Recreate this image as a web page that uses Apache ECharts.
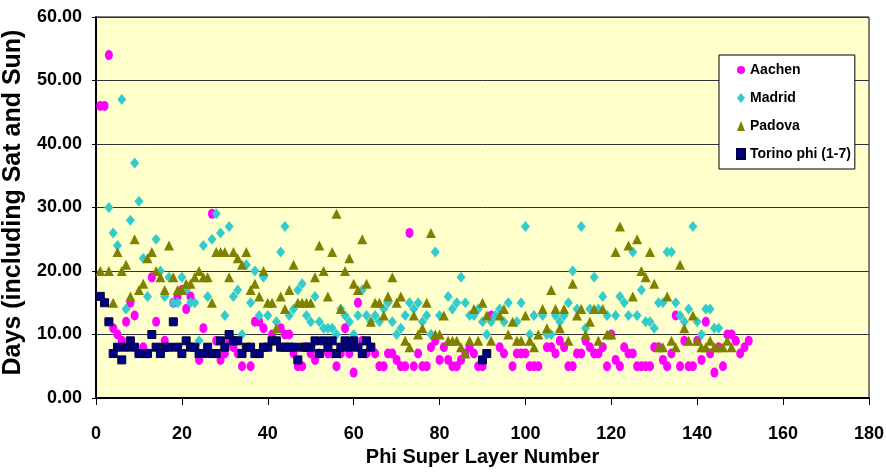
<!DOCTYPE html>
<html>
<head>
<meta charset="utf-8">
<script src="https://cdn.jsdelivr.net/npm/echarts@6/dist/echarts.min.js"></script>
<style>
html,body{margin:0;padding:0;background:#fff;}
#chart{width:886px;height:472px;}
</style>
</head>
<body>
<div id="chart"></div>
<script>
// Data: [phi super layer number, days]
const aachen = [[1,46],[2,46],[3,54],[4,11],[5,10],[6,9],[7,12],[8,15],[9,13],[11,8],[12,7],[13,19],[14,12],[16,9],[18,15],[19,16],[20,17],[21,14],[22,16],[24,6],[25,11],[27,29],[28,9],[29,6],[30,7],[31,9],[32,8],[33,7],[34,5],[36,5],[37,12],[38,12],[39,11],[41,10],[43,11],[44,10],[45,10],[46,7],[47,5],[48,5],[49,8],[50,7],[51,6],[52,7],[54,7],[55,7],[56,5],[57,7],[58,11],[59,7],[60,4],[61,15],[62,9],[63,7],[64,8],[65,7],[66,5],[67,5],[68,7],[69,7],[70,6],[71,5],[72,5],[73,26],[74,5],[75,7],[76,5],[77,5],[78,8],[79,9],[80,6],[81,8],[82,6],[83,5],[84,5],[85,6],[86,7],[87,8],[88,7],[89,5],[90,5],[92,13],[94,8],[95,7],[97,5],[98,7],[99,7],[100,7],[101,5],[102,5],[103,5],[105,8],[106,8],[107,7],[108,9],[109,8],[110,5],[111,5],[112,7],[113,7],[114,9],[115,8],[116,7],[117,7],[118,8],[119,5],[120,10],[121,6],[122,5],[123,8],[124,7],[125,7],[126,5],[127,5],[128,5],[129,5],[130,8],[131,8],[132,6],[133,5],[134,7],[135,13],[136,5],[137,9],[138,5],[139,5],[140,9],[141,6],[142,12],[143,7],[144,4],[145,8],[146,5],[147,10],[148,10],[149,9],[150,7],[151,8],[152,9]];

const madrid = [[3,30],[4,26],[5,24],[6,47],[7,14],[8,28],[9,37],[10,31],[11,22],[12,16],[14,25],[15,20],[16,16],[17,19],[18,15],[19,15],[20,19],[21,17],[22,15],[23,15],[24,9],[25,24],[26,16],[27,25],[28,29],[29,26],[30,13],[31,27],[32,16],[33,17],[34,10],[35,21],[36,15],[37,20],[38,13],[39,19],[40,13],[42,12],[43,23],[44,27],[45,13],[46,14],[47,17],[48,18],[49,13],[50,12],[51,16],[52,12],[53,11],[54,11],[55,11],[56,10],[57,14],[58,13],[59,12],[60,10],[61,13],[62,17],[63,13],[64,12],[65,13],[66,12],[67,14],[68,15],[69,12],[70,10],[71,11],[72,13],[73,15],[74,14],[75,15],[76,12],[77,13],[78,10],[79,23],[80,13],[82,16],[83,14],[84,15],[85,19],[86,15],[87,13],[88,13],[89,14],[90,12],[91,10],[92,12],[93,13],[94,14],[95,12],[96,15],[98,12],[99,15],[100,27],[101,10],[102,13],[104,13],[105,10],[106,10],[107,13],[108,12],[109,13],[110,15],[111,20],[112,14],[113,27],[114,11],[115,14],[116,19],[117,14],[118,16],[119,13],[121,13],[122,16],[123,15],[124,13],[125,23],[126,13],[127,17],[128,12],[129,12],[130,11],[131,15],[132,15],[133,23],[134,23],[135,15],[136,13],[137,12],[138,14],[139,27],[140,12],[141,10],[142,14],[143,14],[144,11],[145,11]];

const padova = [[1,20],[3,20],[4,15],[5,23],[6,20],[7,21],[8,16],[9,25],[10,17],[11,18],[12,22],[13,23],[14,20],[15,19],[16,17],[17,24],[18,19],[19,17],[20,17],[21,18],[22,18],[23,19],[24,20],[25,19],[26,19],[27,15],[28,23],[29,23],[30,23],[31,19],[32,23],[33,22],[34,21],[35,23],[36,17],[37,18],[38,16],[39,20],[40,15],[41,15],[42,11],[43,16],[44,14],[45,17],[46,21],[47,15],[48,15],[49,15],[50,15],[51,19],[52,24],[53,20],[54,16],[55,23],[56,29],[57,14],[58,20],[59,22],[60,18],[61,17],[62,25],[63,18],[64,12],[65,15],[66,15],[67,13],[68,16],[69,19],[70,15],[71,16],[72,9],[73,8],[74,13],[75,10],[76,11],[77,15],[78,26],[79,10],[80,10],[81,13],[82,9],[83,9],[84,9],[85,8],[86,7],[87,9],[88,14],[89,9],[90,15],[91,13],[92,9],[94,13],[95,14],[96,10],[97,12],[98,9],[99,9],[100,13],[101,9],[102,8],[103,10],[104,14],[105,11],[106,17],[107,14],[108,11],[109,14],[110,9],[111,18],[112,13],[113,14],[114,10],[115,12],[116,14],[117,9],[118,14],[119,10],[120,10],[121,23],[122,27],[124,24],[125,16],[126,25],[127,20],[128,19],[129,23],[130,18],[131,8],[132,8],[133,16],[134,9],[135,8],[136,21],[137,11],[138,9],[139,13],[140,9],[141,8],[142,8],[143,9],[144,8],[145,8],[146,8],[147,9],[148,8]];

const torino = [[1,16],[2,15],[3,12],[4,7],[5,8],[6,6],[7,8],[8,9],[9,8],[10,7],[11,7],[12,7],[13,10],[14,8],[15,7],[16,8],[17,8],[18,12],[19,8],[20,7],[21,9],[22,8],[23,8],[24,7],[25,7],[26,8],[27,7],[28,7],[29,9],[30,8],[31,10],[32,9],[33,9],[34,7],[35,8],[36,8],[37,7],[38,7],[39,8],[40,8],[41,9],[42,9],[43,8],[44,8],[45,8],[46,8],[47,6],[48,8],[49,8],[50,8],[51,9],[52,7],[53,9],[54,8],[55,9],[56,7],[57,8],[58,9],[59,8],[60,9],[61,8],[62,7],[63,9],[64,8],[90,6],[91,7]];

const seriesNames = ['Aachen','Madrid','Padova','Torino phi (1-7)'];
const yTicks = [0,10,20,30,40,50,60];
const xTicks = [0,20,40,60,80,100,120,140,160,180];

const FONT = "'Liberation Sans',Arial,sans-serif";

const chart = echarts.init(document.getElementById('chart'), null, {renderer:'canvas'});
chart.setOption({
  animation:false,
  backgroundColor:'#ffffff',
  grid:{left:96,right:17,top:17,bottom:74,containLabel:false,outerBoundsMode:'none',show:true,backgroundColor:'#FFFFCC',borderColor:'#000',borderWidth:1},
  legend:{
    orient:'vertical',left:719,top:55,
    data:seriesNames,
    backgroundColor:'#ffffff',borderColor:'#000',borderWidth:1,
    padding:[8,4,8,17],itemGap:14,itemWidth:8,itemHeight:10,
    textStyle:{fontFamily:FONT,fontWeight:'bold',fontSize:14,color:'#000'}
  },
  xAxis:{
    type:'value',min:xTicks[0],max:xTicks[xTicks.length-1],interval:20,
    name:'Phi Super Layer Number',nameLocation:'middle',nameGap:48,
    nameTextStyle:{fontFamily:FONT,fontWeight:'bold',fontSize:20,color:'#000'},
    axisLine:{lineStyle:{color:'#000',width:2}},
    axisTick:{show:true,inside:false,length:7,lineStyle:{color:'#000',width:1}},
    axisLabel:{margin:27,fontFamily:FONT,fontWeight:'bold',fontSize:18,color:'#000'},
    splitLine:{show:false}
  },
  yAxis:{
    type:'value',min:yTicks[0],max:yTicks[yTicks.length-1],interval:10,
    name:'Days (including Sat and Sun)',nameLocation:'middle',nameGap:62,
    nameTextStyle:{fontFamily:FONT,fontWeight:'bold',fontSize:25,color:'#000',padding:[0,0,0,10]},
    axisLine:{show:true,lineStyle:{color:'#000',width:2}},
    axisTick:{show:true,inside:false,length:4,lineStyle:{color:'#000',width:1}},
    axisLabel:{margin:14,fontFamily:FONT,fontWeight:'bold',fontSize:18,color:'#000',formatter:v=>v.toFixed(2)},
    splitLine:{show:true,lineStyle:{color:'#333',width:1}}
  },
  series:[
    {name:seriesNames[0],type:'scatter',data:aachen,symbol:'circle',symbolSize:[8,10],itemStyle:{color:'#FF00FF',opacity:1}},
    {name:seriesNames[1],type:'scatter',data:madrid,symbol:'diamond',symbolSize:[9,11],itemStyle:{color:'#33CCCC',opacity:1}},
    {name:seriesNames[2],type:'scatter',data:padova,symbol:'triangle',symbolSize:[10,10],itemStyle:{color:'#808000',opacity:1}},
    {name:seriesNames[3],type:'scatter',data:torino,symbol:'rect',symbolSize:[8,8],itemStyle:{color:'#000080',borderColor:'#000040',borderWidth:1,opacity:1}}
  ]
});
</script>
</body>
</html>
